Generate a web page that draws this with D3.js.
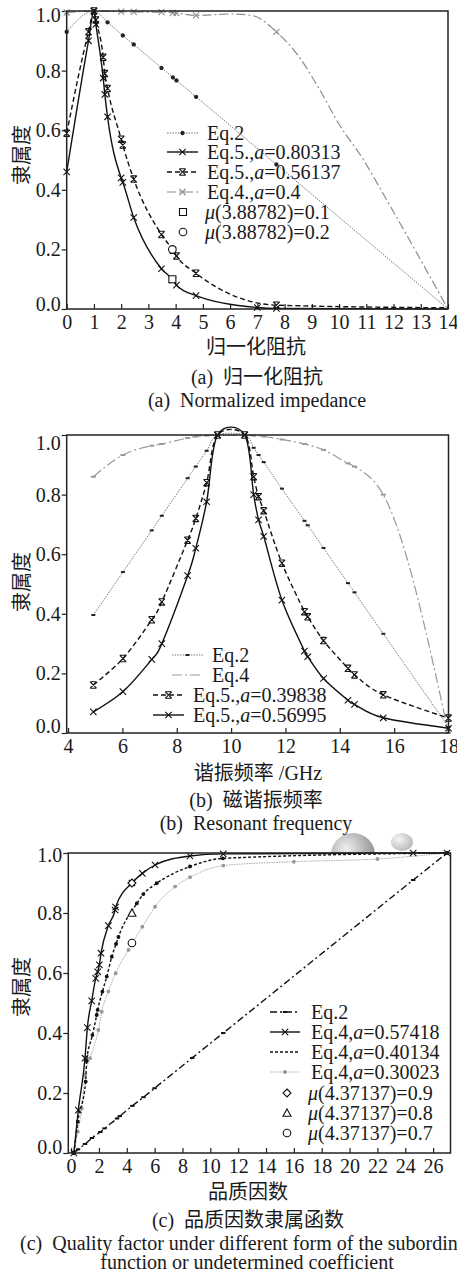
<!DOCTYPE html>
<html lang="zh">

<head>
  <meta charset="UTF-8">
  <title>隶属度</title>
  <style>
    body { margin: 0; background: #fff; }
    svg text { font-family: "Liberation Serif", "Noto Sans CJK SC", serif; fill: #1a1a1a; }
  </style>
</head>

<body>
  <svg id="chart" width="457" height="1279"></svg>

  <script src="https://cdn.jsdelivr.net/npm/d3@7"></script>
  <script>

    // ---------- values ----------

    const yTicks = [0, 0.2, 0.4, 0.6, 0.8, 1.0];

    // (a) normalized impedance
    const aTicks = [0, 1, 2, 3, 4, 5, 6, 7, 8, 9, 10, 11, 12, 13, 14];
    const aMarkX = [0, 0.8, 1, 1.07, 1.34, 1.4, 1.5, 2.0, 2.06, 2.46, 3.48, 3.9, 4.03, 4.75, 7.0, 7.7];
    const aEq2 = [[0, 0.93], [1, 1.0], [1.5, 0.962], [2.06, 0.918], [2.46, 0.888], [3.48, 0.809], [3.9, 0.777],
      [4.03, 0.767], [4.75, 0.712], [7.7, 0.485], [14, 0.0]];
    const aEq5a = [[0, 0.46], [0.8, 0.9], [1, 1.0], [1.07, 0.955], [1.34, 0.775], [1.4, 0.72], [1.5, 0.645],
      [2.0, 0.44], [2.06, 0.425], [2.46, 0.307], [3.48, 0.135], [3.9, 0.097], [4.03, 0.08], [4.75, 0.045],
      [7.0, 0.005], [7.7, 0.002], [14, 0.0]];
    const aEq5b = [[0, 0.59], [0.8, 0.93], [1, 1.0], [1.07, 0.97], [1.34, 0.845], [1.4, 0.79], [1.5, 0.74],
      [2.0, 0.57], [2.06, 0.55], [2.46, 0.436], [3.48, 0.25], [3.9, 0.197], [4.03, 0.178], [4.75, 0.12],
      [7.7, 0.013], [14, 0.004]];
    const aEq4 = [[0, 0.995], [1, 1.0], [2.0, 0.998], [2.46, 0.997], [3.48, 0.996], [3.9, 0.994], [4.03, 0.993],
      [4.75, 0.985], [6.0, 0.99], [6.8, 0.985], [7.7, 0.93], [8.5, 0.85], [9.2, 0.75], [10.0, 0.62],
      [10.9, 0.5], [11.6, 0.39], [14, 0.0]];
    const aMu1 = [[3.88, 0.1]];
    const aMu2 = [[3.88, 0.2]];

    // (b) resonant frequency / GHz
    const bTicks = [4, 6, 8, 10, 12, 14, 16, 18];
    const bEq2 = [[4.93, 0.396], [6.02, 0.54], [7.08, 0.68], [7.45, 0.729], [8.4, 0.855], [8.7, 0.894], [9.1, 0.947],
      [9.5, 1.0], [10.5, 1.0], [10.83, 0.957], [11.01, 0.933], [11.2, 0.909], [11.87, 0.82], [12.7, 0.712],
      [12.82, 0.697], [13.4, 0.621], [14.3, 0.503], [14.54, 0.472], [15.6, 0.333], [18, 0.02]];
    const bEq4 = [[4.93, 0.86], [6.02, 0.933], [7.08, 0.964], [7.45, 0.97], [8.4, 0.99], [8.7, 0.995], [9.1, 0.998],
      [9.5, 1.0], [10.5, 1.0], [10.83, 0.998], [11.2, 0.995], [11.87, 0.985], [12.7, 0.97], [13.4, 0.95],
      [14.3, 0.905], [14.54, 0.894], [15.6, 0.80], [18, 0.0]];
    const bEq5a = [[4.93, 0.161], [6.02, 0.25], [7.08, 0.38], [7.45, 0.44], [8.4, 0.647], [8.7, 0.72], [9.1, 0.84],
      [9.5, 1.0], [10.5, 1.0], [10.83, 0.86], [11.01, 0.793], [11.2, 0.746], [11.87, 0.57], [12.7, 0.407],
      [12.82, 0.39], [13.4, 0.31], [14.3, 0.217], [14.54, 0.195], [15.6, 0.128], [18, 0.05]];
    const bEq5b = [[4.93, 0.071], [6.02, 0.139], [7.08, 0.247], [7.45, 0.30], [8.4, 0.528], [8.7, 0.62], [9.1, 0.776],
      [9.5, 1.0], [10.5, 1.0], [10.83, 0.80], [11.01, 0.715], [11.2, 0.66], [11.87, 0.446], [12.7, 0.275],
      [12.82, 0.256], [13.4, 0.183], [14.3, 0.11], [14.54, 0.096], [15.6, 0.051], [18, 0.016]];

    // (c) quality factor
    const cTicks = [0, 2, 4, 6, 8, 10, 12, 14, 16, 18, 20, 22, 24, 26];
    const cEq2 = [[0.2, 0.0], [0.5, 0.012], [1.0, 0.03], [1.5, 0.05], [2.1, 0.07], [2.4, 0.082], [3.3, 0.115],
      [3.5, 0.123], [4.4, 0.157], [5.2, 0.186], [6.0, 0.216], [8.7, 0.317], [10.93, 0.4], [24.57, 0.91], [27.0, 1.0]];
    const cEq4a = [[0.2, 0.0], [0.52, 0.143], [1.0, 0.316], [1.17, 0.418], [1.48, 0.507], [1.77, 0.582], [1.91, 0.604],
      [2.03, 0.627], [2.15, 0.666], [2.68, 0.758], [3.16, 0.81], [3.2, 0.82], [4.37, 0.9], [5.12, 0.932],
      [6.03, 0.96], [8.54, 0.99], [10.93, 0.997], [24.57, 1.0], [27.0, 1.0]];
    const cEq4b = [[0.2, 0.0], [0.48, 0.104], [1.05, 0.238], [1.12, 0.307], [1.53, 0.393], [1.84, 0.46], [1.91, 0.477],
      [2.25, 0.538], [2.56, 0.588], [2.92, 0.654], [3.23, 0.697], [3.4, 0.72], [4.72, 0.832], [5.19, 0.863],
      [6.15, 0.899], [8.54, 0.955], [10.9, 0.982], [27.0, 1.0]];
    const cEq4c = [[0.2, 0.0], [0.48, 0.071], [0.77, 0.149], [1.0, 0.26], [1.36, 0.316], [1.96, 0.41], [2.2, 0.471],
      [2.68, 0.538], [3.2, 0.599], [4.12, 0.677], [5.12, 0.754], [6.03, 0.821], [7.47, 0.888], [8.54, 0.919],
      [10.93, 0.958], [16, 0.971], [22, 0.98], [27.0, 1.0]];
    const cMu9 = [[4.37, 0.9]];
    const cMu8 = [[4.37, 0.8]];
    const cMu7 = [[4.37, 0.7]];


    // ---------- marker shapes ----------
    function markPath(type, s) {
      switch (type) {
        case "cross": return `M${-s},${-s}L${s},${s}M${s},${-s}L${-s},${s}`;
        case "bow": return `M${-s},${-s}L${s},${s}M${s},${-s}L${-s},${s}M${-s},${-s}H${s}M${-s},${s}H${s}`;
        case "dash": return `M${-s},0H${s}`;
        case "square": return `M${-s},${-s}H${s}V${s}H${-s}Z`;
        case "diamond": return `M0,${-s}L${s},0L0,${s}L${-s},0Z`;
        case "triangle": return `M0,${-s}L${s},${s * 0.8}L${-s},${s * 0.8}Z`;
        default: return `M${s},0A${s},${s} 0 1,1 ${-s},0A${s},${s} 0 1,1 ${s},0Z`;
      }
    }

    const svg = d3.select("#chart");

    function drawMarks(g, pts, st, x, y) {
      g.selectAll(null)
        .data(pts).enter()
        .append("path")
        .attr("transform", d => `translate(${x(d[0])},${y(d[1])})`)
        .call(p => styleMark(p, st));
    }

    function styleMark(p, st) {
      var filled = st.marker == "dot";
      var open = ["square", "diamond", "triangle", "circle"].includes(st.marker);
      p.attr("d", markPath(st.marker, st.ms))
        .attr("fill", filled ? (st.mcolor || st.color) : open ? "#fff" : "none")
        .attr("stroke", st.mcolor || st.color)
        .attr("stroke-width", st.marker == "dash" ? 2 : 1.1);
    }

    // write "Eq.5.,*a*=0.8" with the starred parts in italics
    function richText(t, str) {
      str.split("*").forEach((part, i) => {
        t.append("tspan").attr("font-style", i % 2 ? "italic" : null).text(part);
      });
    }

    function drawPanel(P) {
      const f = P.frame;
      const x = d3.scaleLinear().domain(P.xDomain).range([f.x0, f.x1]);
      const y = d3.scaleLinear().domain([0, 1]).range([f.y0, f.y1]);
      const g = svg.append("g");

      // bottom axis, ticks inside
      g.append("g")
        .attr("transform", `translate(0, ${f.y0})`)
        .call(d3.axisBottom(x).tickValues(P.xTicks).tickSizeInner(-5).tickSizeOuter(0).tickPadding(6)
          .tickFormat(d3.format("d")))
        .call(a => a.select(".domain").remove())
        .call(a => a.selectAll("line").attr("stroke", "#222").attr("stroke-width", 1.2))
        .call(a => a.selectAll("text").attr("font-size", 20).attr("font-family", null).attr("fill", "#1a1a1a"));

      // left axis, ticks outside
      g.append("g")
        .attr("transform", `translate(${f.x0}, 0)`)
        .call(d3.axisLeft(y).tickValues(yTicks).tickSize(5).tickPadding(1).tickFormat(d3.format(".1f")))
        .call(a => a.select(".domain").remove())
        .call(a => a.selectAll("line").attr("stroke", "#222").attr("stroke-width", 1.2))
        .call(a => a.selectAll("text").attr("font-size", 20).attr("font-family", null).attr("fill", "#1a1a1a")
          .attr("transform", d => `translate(0, ${P.yShift[d] || 0})`));

      // series
      P.series.forEach(s => {
        const line = d3.line()
          .x(d => x(d[0])).y(d => y(d[1]))
          .curve(s.curve || d3.curveMonotoneX);
        g.append("path")
          .datum(s.pts)
          .attr("d", line)
          .attr("fill", "none")
          .attr("stroke", s.color)
          .attr("stroke-width", s.width)
          .attr("stroke-dasharray", s.dash || null);
        const marks = s.marks ? s.pts.filter(p => s.marks.includes(p[0])) : s.pts;
        drawMarks(g, marks, s, x, y);
      });

      // single points
      P.points.forEach(s => drawMarks(g, s.pts, s, x, y));

      // frame
      g.append("rect")
        .attr("x", f.x0).attr("y", f.y1)
        .attr("width", f.x1 - f.x0).attr("height", f.y0 - f.y1)
        .attr("fill", "none").attr("stroke", "#222").attr("stroke-width", 1.5);

      // legend
      P.legend.forEach(r => {
        const st = r.style;
        if (r.line) {
          g.append("line")
            .attr("x1", r.hx[0]).attr("x2", r.hx[1]).attr("y1", r.y).attr("y2", r.y)
            .attr("stroke", st.color).attr("stroke-width", st.width)
            .attr("stroke-dasharray", st.dash || null);
        }
        g.append("path")
          .attr("transform", `translate(${(r.hx[0] + r.hx[1]) / 2},${r.y})`)
          .call(p => styleMark(p, st));
        const t = g.append("text")
          .attr("x", r.tx).attr("y", r.y + 7)
          .attr("font-size", 20);
        richText(t, r.text);
      });

      // titles
      g.append("text")
        .attr("transform", `translate(${P.yLabel[0] + 7}, ${P.yLabel[1]}) rotate(-90)`)
        .attr("text-anchor", "middle")
        .attr("font-size", 20)
        .text("隶属度");

      P.texts.forEach(t => {
        g.append("text")
          .attr("x", t.x).attr("y", t.y)
          .attr("text-anchor", t.anchor || "middle")
          .attr("font-size", 20)
          .text(t.s);
      });
    }

    // ---------- styles ----------
    const grayDot = { color: "#6a6a6a", width: 0.9, dash: "1.5,1.2", marker: "dot", mcolor: "#222", ms: 1.6 };
    const blackSolid = { color: "#111", width: 1.4, marker: "cross", ms: 3.2 };
    const blackDash = { color: "#111", width: 1.4, dash: "5,3", marker: "bow", ms: 3.2 };
    const grayDashDot = { color: "#8c8c8c", width: 1.2, dash: "9,3,2,3", marker: "cross", ms: 3 };

    // decorative balls above panel (c)
    const defs = svg.append("defs");
    const grad = defs.append("radialGradient").attr("id", "ball").attr("cx", "35%").attr("cy", "35%").attr("r", "70%");
    grad.append("stop").attr("offset", "0%").attr("stop-color", "#f0f0f0");
    grad.append("stop").attr("offset", "100%").attr("stop-color", "#8a8a8a");
    defs.append("clipPath").attr("id", "aboveC")
      .append("rect").attr("x", 0).attr("y", 800).attr("width", 457).attr("height", 53);
    const deco = svg.append("g").attr("clip-path", "url(#aboveC)");
    deco.append("circle").attr("cx", 353).attr("cy", 855).attr("r", 22).attr("fill", "url(#ball)");
    deco.append("ellipse").attr("cx", 402).attr("cy", 842).attr("rx", 11).attr("ry", 9).attr("fill", "url(#ball)").attr("opacity", 0.6);

    // ---------- (a) ----------
    drawPanel({
      frame: { x0: 66.7, x1: 448, y0: 309, y1: 11 },
      xDomain: [0, 14], xTicks: aTicks, yShift: { 0: -5, 1: 4 },
      series: [
        Object.assign({ pts: aEq4, marks: aMarkX }, grayDashDot),
        Object.assign({ pts: aEq2, marks: aMarkX }, grayDot),
        Object.assign({ pts: aEq5b, marks: aMarkX }, blackDash),
        Object.assign({ pts: aEq5a, marks: aMarkX }, blackSolid)
      ],
      points: [
        { pts: aMu1, color: "#111", marker: "square", ms: 3.5 },
        { pts: aMu2, color: "#111", marker: "circle", ms: 3.8 }
      ],
      legend: [
        { y: 133, hx: [167, 198], tx: 207, line: true, style: grayDot, text: "Eq.2" },
        { y: 152, hx: [167, 198], tx: 207, line: true, style: blackSolid, text: "Eq.5.,*a*=0.80313" },
        { y: 172, hx: [167, 198], tx: 207, line: true, style: blackDash, text: "Eq.5.,*a*=0.56137" },
        { y: 192, hx: [167, 198], tx: 207, line: true, style: grayDashDot, text: "Eq.4.,*a*=0.4" },
        { y: 212, hx: [177, 189], tx: 205, line: false, style: { color: "#111", marker: "square", ms: 3.5 }, text: "*μ*(3.88782)=0.1" },
        { y: 232, hx: [177, 189], tx: 205, line: false, style: { color: "#111", marker: "circle", ms: 3.8 }, text: "*μ*(3.88782)=0.2" }
      ],
      yLabel: [22, 155],
      texts: [
        { x: 256, y: 354, s: "归一化阻抗" },
        { x: 257, y: 384, s: "(a)\u2002归一化阻抗" },
        { x: 257, y: 407, s: "(a)\u2002Normalized impedance" }
      ]
    });

    // ---------- (b) ----------
    const bGrayDot = Object.assign({}, grayDot, { marker: "dash", ms: 2, curve: d3.curveCardinal });
    const bGrayDash = { color: "#999", width: 1.2, dash: "10,3,2,3", marker: "dash", ms: 2.5 };
    const bBlackDash = Object.assign({}, blackDash, { curve: d3.curveCardinal });
    const bBlackSolid = Object.assign({}, blackSolid, { curve: d3.curveCardinal });

    drawPanel({
      frame: { x0: 66.7, x1: 448.5, y0: 733, y1: 435 },
      xDomain: [3.95, 18], xTicks: bTicks, yShift: { 0: -7, 1: 8 },
      series: [
        Object.assign({ pts: bEq4 }, bGrayDash),
        Object.assign({ pts: bEq2 }, bGrayDot),
        Object.assign({ pts: bEq5a }, bBlackDash),
        Object.assign({ pts: bEq5b }, bBlackSolid)
      ],
      points: [],
      legend: [
        { y: 655, hx: [172, 203], tx: 212, line: true, style: bGrayDot, text: "Eq.2" },
        { y: 675, hx: [172, 203], tx: 212, line: true, style: Object.assign({}, bGrayDash, { ms: 0 }), text: "Eq.4" },
        { y: 695, hx: [153, 184], tx: 193, line: true, style: bBlackDash, text: "Eq.5.,*a*=0.39838" },
        { y: 715, hx: [153, 184], tx: 193, line: true, style: bBlackSolid, text: "Eq.5.,*a*=0.56995" }
      ],
      yLabel: [22, 582],
      texts: [
        { x: 258, y: 780, s: "谐振频率 /GHz" },
        { x: 256, y: 807, s: "(b)\u2002磁谐振频率" },
        { x: 256, y: 830, s: "(b)\u2002Resonant frequency" }
      ]
    });

    // ---------- (c) ----------
    const cDashDot = { color: "#111", width: 1.4, dash: "7,3,2,3", marker: "dash", ms: 2.2 };
    const cSolid = { color: "#111", width: 1.4, marker: "cross", ms: 3.2 };
    const cDash = { color: "#111", width: 1.4, dash: "3,2", marker: "dot", ms: 1.4 };
    const cLight = { color: "#aaa", width: 1.0, dash: "1.5,1", marker: "dot", mcolor: "#999", ms: 1.4 };

    drawPanel({
      frame: { x0: 68.3, x1: 450.5, y0: 1153, y1: 853 },
      xDomain: [-0.2, 27.25], xTicks: cTicks, yShift: { 0: -6, 1: 2 },
      series: [
        Object.assign({ pts: cEq2 }, cDashDot),
        Object.assign({ pts: cEq4c }, cLight),
        Object.assign({ pts: cEq4b }, cDash),
        Object.assign({ pts: cEq4a }, cSolid)
      ],
      points: [
        { pts: cMu9, color: "#111", marker: "diamond", ms: 4 },
        { pts: cMu8, color: "#111", marker: "triangle", ms: 4 },
        { pts: cMu7, color: "#111", marker: "circle", ms: 3.8 }
      ],
      legend: [
        { y: 1012, hx: [270, 300], tx: 311, line: true, style: cDashDot, text: "Eq.2" },
        { y: 1032, hx: [270, 300], tx: 311, line: true, style: cSolid, text: "Eq.4,*a*=0.57418" },
        { y: 1052, hx: [270, 300], tx: 311, line: true, style: Object.assign({}, cDash, { ms: 0 }), text: "Eq.4,*a*=0.40134" },
        { y: 1072, hx: [270, 300], tx: 311, line: true, style: cLight, text: "Eq.4,*a*=0.30023" },
        { y: 1093, hx: [281, 293], tx: 308, line: false, style: { color: "#111", marker: "diamond", ms: 4 }, text: "*μ*(4.37137)=0.9" },
        { y: 1113, hx: [281, 293], tx: 308, line: false, style: { color: "#111", marker: "triangle", ms: 4 }, text: "*μ*(4.37137)=0.8" },
        { y: 1133, hx: [281, 293], tx: 308, line: false, style: { color: "#111", marker: "circle", ms: 3.8 }, text: "*μ*(4.37137)=0.7" }
      ],
      yLabel: [22, 987],
      texts: [
        { x: 248, y: 1199, s: "品质因数" },
        { x: 248, y: 1227, s: "(c)\u2002品质因数隶属函数" },
        { x: 20, y: 1250, s: "(c)\u2002Quality factor under different form of the subordinate", anchor: "start" },
        { x: 247, y: 1269, s: "function or undetermined coefficient" }
      ]
    });

  </script>
</body>

</html>
